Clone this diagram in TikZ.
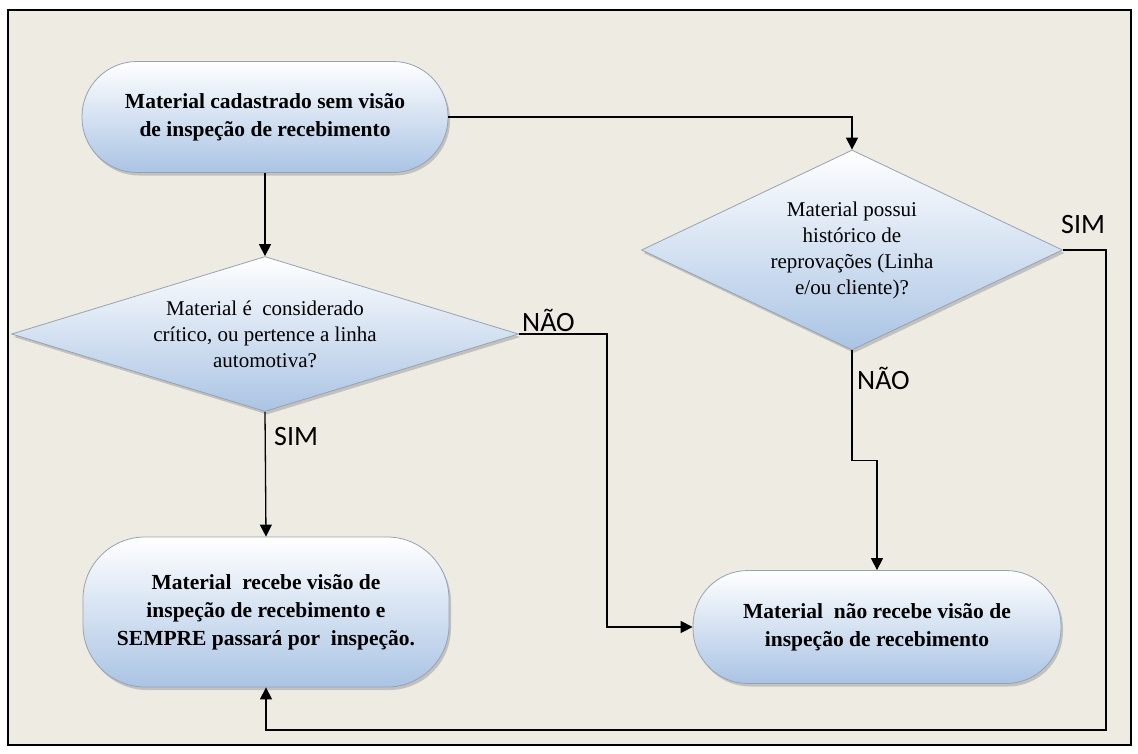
\documentclass[tikz,border=0pt]{standalone}
\usepackage{fontspec}
\setmainfont{Liberation Serif}
\newfontfamily\labelfont{Carlito}
\usetikzlibrary{shapes.geometric,shadows,arrows.meta}
\definecolor{paper}{RGB}{238,235,226}
\definecolor{boxblue}{RGB}{170,196,228}
\definecolor{boxline}{RGB}{150,162,180}

\begin{document}
\begin{tikzpicture}[x=1pt,y=-1pt,
    terminal/.style={rectangle, rounded corners=#1, draw=boxline, line width=0.8pt,
        top color=white, bottom color=boxblue,
        drop shadow={shadow xshift=2pt,shadow yshift=-3pt,fill=black!40},
        align=center, inner sep=0pt, font=\bfseries\fontsize{21.5}{28}\selectfont},
    terminal/.default=55pt,
    decision/.style={diamond, draw=boxline, line width=0.8pt,
        top color=white, bottom color=boxblue,
        drop shadow={shadow xshift=2pt,shadow yshift=-3pt,fill=black!40},
        align=center, inner sep=0pt, font=\fontsize{21}{26}\selectfont},
    flow/.style={line width=1.3pt, -{Triangle[length=12pt,width=12pt]}},
    answer/.style={anchor=west, inner sep=0pt, font=\labelfont\fontsize{28}{30}\selectfont}]
    \useasboundingbox (0,0) rectangle (1138,753);
    \fill[white] (0,0) rectangle (1138,753);
    \draw[fill=paper, line width=2pt] (8,10) rectangle (1131,745);

    % shapes
    \node[terminal, minimum width=366pt, minimum height=111pt] (t1) at (265,117)
        {Material cadastrado sem visão\\de inspeção de recebimento};
    \node[decision, shape aspect=3.27, minimum width=507pt, minimum height=155pt] (d1) at (265,334)
        {Material é\ \ considerado\\crítico, ou pertence a linha\\automotiva?};
    \node[terminal=62pt, minimum width=366pt, minimum height=150pt] (t2) at (266,612)
        {Material\ \ recebe visão de\\inspeção de recebimento e\\SEMPRE passará por\ \ inspeção.};
    \node[decision, shape aspect=2.1, minimum width=421pt, minimum height=200pt] (d2) at (852,250)
        {Material possui\\histórico de\\reprovações (Linha\\e/ou cliente)?};
    \node[terminal, minimum width=368pt, minimum height=113pt] (t3) at (877,627)
        {Material\ \ não recebe visão de\\inspeção de recebimento};
    \coordinate (back) at (1106,730);

    % connectors
    \draw[flow] (t1.south) -- (d1.north);
    \draw[flow] (t1.east) -| (d2.north);
    \draw[flow] (d1.south) -- (t2.north);
    \draw[flow] (d1.east) -- ++(88,0) |- (t3.west);
    \draw[flow] (d2.south) -- ++(0,110) -| (t3.north);
    \draw[flow] (d2.east) -| (back) -| (t2.south);

    % labels
    \node[answer] (sim1) at (274,437) {SIM};
    \node[answer] (nao1) at (522,320) {NÃO};
    \node[answer] (sim2) at (1061,225) {SIM};
    \node[answer] (nao2) at (857,378) {NÃO};
\end{tikzpicture}
\end{document}
